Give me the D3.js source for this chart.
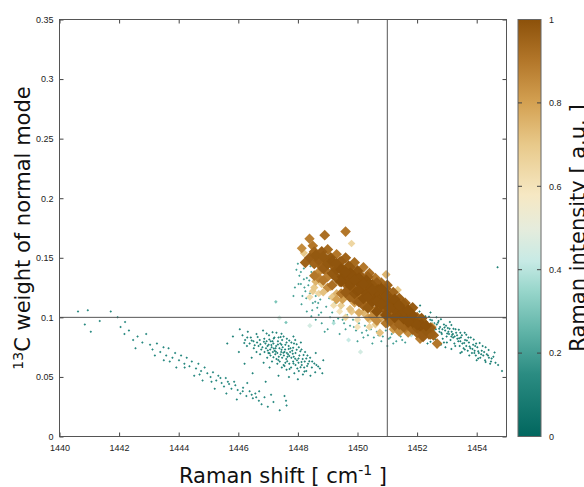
<!DOCTYPE html>
<html>
<head>
<meta charset="utf-8">
<script src="https://cdn.jsdelivr.net/npm/d3@7"></script>
<style>
  html, body { margin: 0; padding: 0; background: #fff; }
  svg { display: block; font-family: "DejaVu Sans", sans-serif; }
  .tick text { font-size: 9px; fill: #222; }
  .tick line { stroke: #444; }
  .title { font-size: 21px; fill: #111; }
</style>
</head>
<body>
<svg id="chart" width="584" height="487"></svg>
<script>
// axis ticks
const xTicks = [1440, 1442, 1444, 1446, 1448, 1450, 1452, 1454];
const yTicks = [0, 0.05, 0.1, 0.15, 0.2, 0.25, 0.3, 0.35];
const cbTicks = [0, 0.2, 0.4, 0.6, 0.8, 1];
const refX = 1451;
const refY = 0.1;

// colour map stops (intensity -> colour)
const cmapStops = [0, 0.15, 0.25, 0.35, 0.42, 0.5, 0.58, 0.7, 0.8, 0.9, 1];
const cmapColors = ['#01665e', '#2b8c82', '#5fb3a7', '#98d6cb', '#c7eae5', '#e6ecdc',
  '#f6e8c3', '#e8c98a', '#d4a152', '#b3772a', '#8c510a'];

// weak modes, [shift, 13C weight]; one intensity per group
const tealLeft = [[1440.62,.105],[1440.95,.106],[1441.72,.105],[1440.85,.094],[1441.05,.088],[1441.35,.097],
  [1442.05,.092],[1442.18,.086],[1442.33,.089],[1442.47,.081],[1442.62,.084],[1442.78,.079],[1442.91,.086],
  [1443.04,.077],[1443.12,.073],[1443.27,.078],[1443.38,.071],[1443.49,.075],[1443.58,.068],[1443.66,.074],
  [1443.79,.066],[1443.88,.070],[1444.01,.064],[1444.08,.068],[1444.19,.061],[1444.27,.066],[1444.36,.059],
  [1444.44,.063],[1444.58,.057],[1444.66,.061],[1444.75,.055],[1444.87,.058],[1444.96,.053],[1445.07,.050],
  [1445.15,.054],[1445.26,.047],[1445.33,.051],[1445.44,.045],[1445.52,.042],[1445.58,.049],[1445.69,.044],
  [1445.77,.040],[1445.86,.046],[1445.98,.039],[1446.07,.036],[1446.16,.041],[1446.27,.034],[1446.38,.038],
  [1446.49,.032],[1446.57,.036],[1446.69,.030],[1446.78,.027],[1446.88,.033],[1446.99,.025],[1447.18,.029],
  [1447.39,.022],[1447.62,.026],[1443.92,.058],[1444.52,.051],[1445.21,.040],[1445.95,.031],[1442.55,.074],
  [1443.50,.064],[1444.80,.047],[1446.30,.045],[1446.70,.038],[1447.10,.035],[1447.60,.030],[1445.60,.036],
  [1443.20,.068],[1442.20,.096],[1441.95,.100],[1445.40,.049],[1445.65,.046],[1445.90,.043],[1446.15,.038],
  [1446.45,.035],[1446.60,.033],[1445.10,.046],[1444.70,.052],[1444.20,.058],[1443.70,.063]];
const tealLeftLevel = 0.14;

const tealMid = [[1446.05,.090],[1445.82,.084],[1445.63,.078],[1446.02,.071],[1446.21,.061],[1446.48,.053],
  [1446.92,.046],[1447.55,.034],[1446.32,.088],[1446.83,.089],[1447.28,.087],[1446.14,.085],[1446.61,.086],
  [1447.03,.085],[1447.52,.084],[1446.42,.083],[1446.87,.082],[1447.21,.083],[1447.63,.082],[1447.91,.081],
  [1446.23,.081],[1446.51,.080],[1446.72,.081],[1447.09,.080],[1447.33,.080],[1447.47,.081],[1447.78,.079],
  [1446.38,.078],[1446.63,.079],[1446.91,.078],[1447.02,.077],[1447.18,.078],[1447.41,.078],[1447.58,.077],
  [1447.87,.078],[1446.29,.076],[1446.68,.076],[1446.81,.075],[1446.98,.076],[1447.12,.075],[1447.27,.076],
  [1447.49,.075],[1447.69,.076],[1448.03,.075],[1446.52,.074],[1446.77,.073],[1446.93,.074],[1447.07,.073],
  [1447.22,.072],[1447.38,.074],[1447.57,.073],[1447.81,.072],[1448.12,.073],[1446.61,.071],[1446.88,.071],
  [1447.01,.070],[1447.16,.071],[1447.31,.070],[1447.44,.071],[1447.63,.070],[1447.74,.071],[1447.92,.070],
  [1448.24,.071],[1446.73,.069],[1447.08,.068],[1447.24,.069],[1447.36,.067],[1447.53,.068],[1447.67,.069],
  [1447.86,.067],[1448.05,.068],[1448.32,.068],[1446.97,.066],[1447.28,.065],[1447.47,.066],[1447.61,.065],
  [1447.78,.066],[1447.97,.064],[1448.16,.065],[1448.41,.066],[1447.13,.063],[1447.39,.063],[1447.58,.062],
  [1447.84,.063],[1448.02,.062],[1448.23,.063],[1448.48,.063],[1447.31,.061],[1447.52,.060],[1447.71,.061],
  [1447.92,.060],[1448.13,.060],[1448.34,.061],[1448.62,.060],[1447.46,.058],[1447.77,.058],[1447.98,.057],
  [1448.21,.058],[1448.47,.058],[1448.74,.057],[1447.62,.056],[1448.03,.055],[1448.28,.055],[1448.58,.054],
  [1447.88,.053],[1448.17,.052],[1448.42,.051],[1448.82,.053],[1447.05,.058],[1446.85,.062],[1447.70,.050],
  [1446.45,.066],[1448.60,.070],[1448.85,.064],[1447.35,.051],[1448.00,.048],[1447.45,.077],[1447.25,.074],
  [1447.55,.071],[1447.15,.080],[1447.65,.067],[1447.35,.083],[1446.95,.080],[1447.75,.074],
  [1446.86,.0795],[1447.04,.0815],[1447.19,.0822],[1447.42,.0835],[1447.71,.0805],[1447.96,.0775],
  [1446.74,.0775],[1447.11,.0768],[1447.33,.0772],[1447.62,.0788],[1447.84,.0745],[1448.08,.0715],
  [1446.99,.0722],[1447.19,.0738],[1447.45,.0728],[1447.69,.0735],[1447.96,.0728],[1448.19,.0685],
  [1447.05,.0698],[1447.26,.0712],[1447.51,.0702],[1447.83,.0695],[1448.02,.0655],[1448.28,.0655],
  [1447.18,.0665],[1447.42,.0688],[1447.71,.0675],[1447.91,.0652],[1448.12,.0625],[1448.38,.0632],
  [1447.34,.0642],[1447.64,.0632],[1447.85,.0612],[1448.09,.0582],[1448.31,.0592],[1448.55,.0612],
  [1447.55,.0592],[1447.72,.0566],[1448.22,.0545],[1448.68,.0588],[1446.55,.0765],[1446.45,.0805],
  [1446.20,.0785],[1446.30,.0830],[1446.65,.0835],[1446.95,.0865],[1447.15,.0875],[1447.45,.0862],
  [1447.85,.0840],[1448.10,.0790]];
const tealMidLevel = 0.12;

const tealUnder = [[1448.05,.135],[1448.10,.128],[1448.20,.141],[1448.25,.122],[1448.30,.133],[1448.35,.127],
  [1448.45,.138],[1448.50,.112],[1448.55,.125],[1448.60,.118],[1448.15,.118],[1448.00,.145],[1448.30,.105],
  [1448.65,.108],[1448.75,.115],[1448.85,.121],[1448.95,.109],[1449.05,.116],[1449.15,.104],[1449.25,.112],
  [1449.35,.099],[1449.45,.108],[1449.55,.095],[1449.65,.102],[1449.75,.093],[1449.85,.098],[1449.95,.089],
  [1450.05,.095],[1450.15,.087],[1450.25,.093],[1450.35,.085],[1450.45,.090],[1450.55,.083],[1450.65,.088],
  [1450.85,.084],[1450.95,.089],[1451.05,.082],[1451.15,.086],[1451.30,.080],[1451.45,.084],[1451.60,.079],
  [1449.00,.090],[1448.80,.095],[1448.60,.098],[1449.40,.086],[1450.00,.080],[1450.50,.078],[1451.00,.076],
  [1448.90,.088],[1448.45,.101],[1447.90,.125],[1447.85,.118],[1448.20,.132],[1448.40,.120],[1448.70,.102],
  [1449.20,.097],[1449.60,.090],[1450.20,.083],[1450.80,.080],[1451.20,.078],
  [1448.10,.138],[1448.22,.125],[1448.38,.131],[1448.12,.111],[1448.48,.106],[1448.58,.113],[1448.28,.116],
  [1448.68,.112],[1448.42,.143],[1448.02,.128],[1447.95,.140],[1448.52,.130],[1448.78,.104],[1449.08,.100],
  [1449.50,.098],[1449.88,.092],[1450.30,.089],[1450.70,.085],[1451.10,.083],[1451.50,.081]];
const tealUnderLevel = 0.2;

const tealRight = [[1451.55,.101],[1451.62,.096],[1451.71,.104],[1451.78,.099],[1451.84,.094],[1451.92,.102],
  [1451.97,.097],[1452.04,.092],[1452.08,.105],[1452.13,.099],[1452.19,.094],[1452.24,.089],[1452.28,.101],
  [1452.33,.096],[1452.39,.091],[1452.44,.098],[1452.49,.093],[1452.53,.087],[1452.58,.095],[1452.63,.090],
  [1452.68,.085],[1452.72,.097],[1452.77,.092],[1452.81,.087],[1452.86,.082],[1452.90,.094],[1452.94,.089],
  [1452.99,.084],[1453.03,.091],[1453.07,.086],[1453.12,.081],[1453.16,.088],[1453.21,.083],[1453.25,.078],
  [1453.29,.090],[1453.34,.085],[1453.38,.080],[1453.43,.076],[1453.47,.083],[1453.52,.078],[1453.56,.074],
  [1453.61,.081],[1453.65,.076],[1453.70,.072],[1453.74,.079],[1453.79,.074],[1453.84,.070],[1453.88,.077],
  [1453.93,.072],[1453.97,.068],[1454.02,.075],[1454.07,.070],[1454.12,.066],[1454.17,.072],[1454.22,.068],
  [1454.28,.064],[1454.34,.069],[1454.41,.066],[1454.48,.063],[1454.56,.067],[1454.63,.062],[1454.72,.060],
  [1452.10,.110],[1452.45,.104],[1452.20,.086],[1452.55,.082],[1453.00,.079],[1453.50,.071],[1454.00,.064],
  [1453.10,.096],[1452.65,.100],[1451.90,.089],[1453.60,.087],[1454.30,.075],[1454.85,.055],[1454.70,.142],
  [1452.35,.078],[1452.95,.075],[1453.80,.083],[1452.85,.090],[1453.05,.088],[1453.20,.086],[1453.35,.082],
  [1452.75,.088],[1453.15,.084],[1453.45,.080],[1452.60,.092],
  [1452.26,.0955],[1452.36,.0935],[1452.47,.0900],[1452.56,.0885],[1452.66,.0940],[1452.74,.0905],
  [1452.83,.0860],[1452.92,.0915],[1453.01,.0865],[1453.09,.0905],[1453.18,.0855],[1453.26,.0840],
  [1453.31,.0870],[1453.41,.0825],[1453.50,.0850],[1453.58,.0785],[1453.67,.0805],[1453.76,.0755],
  [1453.86,.0735],[1453.95,.0760],[1454.05,.0715],[1454.15,.0690],[1454.25,.0710],[1454.38,.0680],
  [1454.50,.0655],[1452.40,.1005],[1452.70,.0955],[1452.97,.0930],[1453.22,.0905],[1453.45,.0870],
  [1453.72,.0830],[1453.98,.0780],[1454.20,.0760],[1452.30,.0845],[1452.62,.0815],[1452.90,.0790],
  [1453.28,.0760],[1453.60,.0730],[1453.92,.0700],[1454.45,.0610],[1452.02,.0985],[1451.75,.0935],
  [1451.66,.1015],[1452.15,.0900],[1452.50,.0975],
  [1452.80,.0985],[1453.15,.0935],[1453.40,.0895],[1453.65,.0855],[1453.90,.0815],[1454.10,.0785],
  [1454.40,.0725],[1454.60,.0705],[1452.45,.0795],[1452.80,.0770],[1453.15,.0735],[1453.45,.0700],
  [1453.75,.0680],[1454.05,.0655],[1454.30,.0625]];
const tealRightLevel = 0.11;

// isolated medium-intensity modes, [shift, weight, intensity]
const lightModes = [[1447.26,.113,.3],[1447.38,.0996,.45],[1448.40,.093,.45],[1447.60,.0956,.3],
  [1449.70,.081,.42],[1450.10,.071,.45],[1452.50,.095,.42],[1451.80,.085,.4],[1449.20,.095,.38]];

// strong modes, [shift, weight, intensity]
const strongModes = [[1448.13,.158,.85],[1448.39,.166,.88],[1448.90,.169,.92],[1449.60,.172,.9],[1449.80,.162,.65],
  [1448.25,.146,.95],[1448.40,.150,.97],[1448.20,.154,.7],[1448.50,.160,.9],
  [1448.60,.152,.98],[1448.70,.145,.95],[1448.80,.155,.97],[1448.90,.148,.96],[1449.00,.157,.93],[1449.10,.150,.98],
  [1449.20,.143,.96],[1448.70,.138,.85],[1448.90,.140,.92],[1449.00,.134,.88],[1448.60,.130,.75],[1448.80,.128,.7],
  [1448.50,.122,.68],[1448.40,.117,.62],[1448.70,.120,.65],[1449.10,.126,.8],[1449.20,.136,.94],[1449.30,.153,.9],
  [1449.40,.146,.97],[1449.50,.140,.99],[1449.60,.150,.95],[1449.70,.143,.98],[1449.80,.136,1],[1449.90,.146,.93],
  [1450.00,.139,.99],[1449.40,.130,.9],[1449.60,.128,.95],[1449.80,.125,.97],[1450.00,.130,1],[1449.30,.120,.75],
  [1449.50,.115,.8],[1449.70,.118,.85],[1449.90,.112,.8],[1449.20,.110,.62],[1449.40,.105,.6],[1449.60,.100,.65],
  [1449.80,.105,.7],[1450.00,.098,.62],[1450.10,.135,.97],[1450.20,.142,.9],[1450.30,.131,1],[1450.40,.137,.92],
  [1450.50,.127,.99],[1450.60,.133,.9],[1450.70,.123,1],[1450.80,.129,.93],[1450.20,.124,.98],[1450.40,.119,.97],
  [1450.60,.115,.99],[1450.80,.117,.96],[1450.10,.116,.9],[1450.30,.110,.88],[1450.50,.106,.85],[1450.70,.108,.92],
  [1450.20,.104,.75],[1450.40,.098,.7],[1450.60,.094,.68],[1450.80,.100,.8],[1450.00,.092,.6],[1450.40,.092,.65],
  [1450.75,.087,.72],[1450.90,.121,1],[1451.00,.127,.95],[1451.10,.116,.99],[1451.20,.121,.95],[1451.30,.111,1],
  [1451.35,.123,.7],[1450.96,.136,.75],[1451.40,.116,.96],[1451.50,.106,.99],[1451.60,.112,.95],[1450.90,.107,.97],
  [1451.10,.103,.95],[1451.30,.099,.93],[1451.50,.096,.95],[1451.00,.095,.85],[1451.20,.090,.8],[1451.40,.088,.85],
  [1451.60,.091,.9],[1451.70,.102,1],[1451.80,.107,.95],[1451.90,.098,.99],[1452.00,.100,.93],[1452.10,.093,1],
  [1452.20,.096,.9],[1452.30,.089,.98],[1451.80,.092,.96],[1452.00,.087,.95],[1452.20,.084,.97],[1452.40,.086,.96],
  [1452.55,.085,.95],[1452.67,.078,.9],[1452.50,.092,.8],[1451.70,.087,.85],[1452.10,.082,.88],
  [1449.30,.140,.99],[1449.50,.134,1],[1449.70,.130,1],[1450.00,.122,1],[1450.20,.116,1],[1450.50,.113,1],
  [1450.70,.116,1],[1451.00,.112,1],[1451.20,.108,1],[1451.40,.104,1],[1451.60,.100,1],[1449.90,.120,.99],
  [1450.30,.120,1],[1450.60,.121,1],[1450.90,.114,1],
  [1448.55,.125,.7],[1448.55,.135,.9],[1448.55,.145,.95],[1448.55,.155,.95],
  [1448.85,.121,.72],[1448.85,.131,.9],[1448.85,.141,.97],[1448.85,.151,.98],
  [1449.15,.117,.7],[1449.15,.127,.92],[1449.15,.137,.98],[1449.15,.147,.99],
  [1449.45,.110,.68],[1449.45,.120,.9],[1449.45,.130,1],[1449.45,.140,1],[1449.45,.147,.97],
  [1449.75,.107,.72],[1449.75,.117,.95],[1449.75,.127,1],[1449.75,.137,1],[1449.75,.142,.97],
  [1450.05,.104,.78],[1450.05,.113,.97],[1450.05,.123,1],[1450.05,.133,1],
  [1450.35,.100,.8],[1450.35,.108,.98],[1450.35,.117,1],[1450.35,.127,1],[1450.35,.134,.96],
  [1450.65,.097,.85],[1450.65,.105,1],[1450.65,.113,1],[1450.65,.122,1],[1450.65,.129,.97],
  [1450.95,.095,.9],[1450.95,.102,1],[1450.95,.110,1],[1450.95,.118,1],[1450.95,.124,.97],
  [1451.25,.093,.92],[1451.25,.100,1],[1451.25,.107,1],[1451.25,.115,1],
  [1451.55,.092,.95],[1451.55,.099,1],[1451.55,.105,1],[1451.55,.111,.98],
  [1451.85,.090,.96],[1451.85,.096,1],[1451.85,.102,1],[1451.85,.108,.97],
  [1452.15,.088,.97],[1452.15,.094,1],[1452.15,.099,.98],[1452.45,.086,.96],[1452.45,.091,.97],
  [1448.70,.133,.88],[1448.70,.148,.97],[1449.00,.145,.98],[1449.00,.125,.85],[1449.30,.133,.98],
  [1449.30,.115,.8],[1449.30,.145,.99],[1449.60,.121,.97],[1449.60,.138,1],[1449.90,.131,1],[1449.90,.115,.95],
  [1450.20,.128,1],[1450.20,.110,.95],[1450.50,.123,1],[1450.50,.101,.85],[1450.80,.111,1],[1450.80,.124,1],
  [1451.10,.108,1],[1451.10,.097,.95],[1451.40,.110,1],[1451.40,.094,.95],[1451.70,.096,1],[1451.70,.106,1],
  [1452.00,.094,1],[1452.00,.091,.98],[1452.30,.093,1]];

const W = 584, H = 487;
const plot = { left: 59.5, right: 506.5, top: 19.5, bottom: 436.5 };
const bar = { left: 518, right: 541 };

const svg = d3.select('#chart');

const x = d3.scaleLinear().domain([1440, 1455]).range([plot.left, plot.right]);
const y = d3.scaleLinear().domain([0, 0.35]).range([plot.bottom, plot.top]);
const cy = d3.scaleLinear().domain([0, 1]).range([plot.bottom, plot.top]);
const color = d3.scaleLinear().domain(cmapStops).range(cmapColors).clamp(true);

// collect points, weak first so strong ones end on top
const points = [];
const addGroup = (arr, lvl) => arr.forEach(p => points.push({ x: p[0], y: p[1], v: lvl }));
addGroup(tealLeft, tealLeftLevel);
addGroup(tealMid, tealMidLevel);
addGroup(tealUnder, tealUnderLevel);
addGroup(tealRight, tealRightLevel);
lightModes.concat(strongModes).forEach(p => points.push({ x: p[0], y: p[1], v: p[2] }));
points.sort((a, b) => a.v - b.v);

// marker size grows with intensity
const diamond = d => {
  const r = Math.max(1.25, 5.9 * d.v);
  const px = x(d.x), py = y(d.y);
  return `M${px},${py - r}L${px + r},${py}L${px},${py + r}L${px - r},${py}Z`;
};

svg.append('defs').append('clipPath').attr('id', 'plotclip')
  .append('rect')
  .attr('x', plot.left).attr('y', plot.top)
  .attr('width', plot.right - plot.left).attr('height', plot.bottom - plot.top);

svg.append('g')
  .attr('clip-path', 'url(#plotclip)')
  .selectAll('path').data(points).enter().append('path')
  .attr('d', diamond)
  .attr('fill', d => color(d.v));

// reference lines
svg.append('line')
  .attr('x1', plot.left).attr('x2', plot.right)
  .attr('y1', y(refY)).attr('y2', y(refY))
  .attr('stroke', '#555').attr('stroke-width', 1);
svg.append('line')
  .attr('x1', x(refX)).attr('x2', x(refX))
  .attr('y1', plot.top).attr('y2', plot.bottom)
  .attr('stroke', '#555').attr('stroke-width', 1);

// axes, ticks pointing inward on all four sides
const noDomain = g => g.select('.domain').remove();
svg.append('g')
  .attr('transform', `translate(0,${plot.bottom})`)
  .call(d3.axisBottom(x).tickValues(xTicks).tickFormat(d3.format('d')).tickSize(-4).tickPadding(8))
  .call(noDomain);
svg.append('g')
  .attr('transform', `translate(0,${plot.top})`)
  .call(d3.axisTop(x).tickValues(xTicks).tickFormat('').tickSize(-4))
  .call(noDomain);
svg.append('g')
  .attr('transform', `translate(${plot.left},0)`)
  .call(d3.axisLeft(y).tickValues(yTicks).tickFormat(d => String(+d.toFixed(2))).tickSize(-4).tickPadding(6))
  .call(noDomain);
svg.append('g')
  .attr('transform', `translate(${plot.right},0)`)
  .call(d3.axisRight(y).tickValues(yTicks).tickFormat('').tickSize(-4))
  .call(noDomain);

svg.append('rect')
  .attr('x', plot.left).attr('y', plot.top)
  .attr('width', plot.right - plot.left).attr('height', plot.bottom - plot.top)
  .attr('fill', 'none').attr('stroke', '#555').attr('stroke-width', 1);

// colour bar
const grad = svg.select('defs').append('linearGradient')
  .attr('id', 'cbgrad').attr('x1', 0).attr('y1', 1).attr('x2', 0).attr('y2', 0);
grad.selectAll('stop').data(cmapStops).enter().append('stop')
  .attr('offset', d => d)
  .attr('stop-color', d => color(d));

svg.append('rect')
  .attr('x', bar.left).attr('y', plot.top)
  .attr('width', bar.right - bar.left).attr('height', plot.bottom - plot.top)
  .attr('fill', 'url(#cbgrad)').attr('stroke', '#666').attr('stroke-width', 1);

const inner = cbTicks.filter(t => t > 0 && t < 1);
svg.append('g').selectAll('line').data(inner).enter().append('line')
  .attr('x1', bar.left).attr('x2', bar.left + 4)
  .attr('y1', d => cy(d)).attr('y2', d => cy(d))
  .attr('stroke', '#444');
svg.append('g').selectAll('line').data(inner).enter().append('line')
  .attr('x1', bar.right - 4).attr('x2', bar.right)
  .attr('y1', d => cy(d)).attr('y2', d => cy(d))
  .attr('stroke', '#444');
svg.append('g')
  .attr('transform', `translate(${bar.right},0)`)
  .call(d3.axisRight(cy).tickValues(cbTicks).tickFormat(d3.format('')).tickSize(0).tickPadding(8))
  .call(noDomain);

// titles
const xt = svg.append('text').attr('class', 'title')
  .attr('x', (plot.left + plot.right) / 2).attr('y', 483)
  .attr('text-anchor', 'middle');
xt.append('tspan').text('Raman shift [ cm');
xt.append('tspan').attr('dy', -8).attr('font-size', 14).text('-1');
xt.append('tspan').attr('dy', 8).text(' ]');

const yt = svg.append('text').attr('class', 'title')
  .attr('transform', `translate(30,${(plot.top + plot.bottom) / 2}) rotate(-90)`)
  .attr('text-anchor', 'middle');
yt.append('tspan').attr('dy', -7).attr('font-size', 14).text('13');
yt.append('tspan').attr('dy', 7).text('C weight of normal mode');

// colour-bar title, its baseline just past the right edge as in the original
svg.append('text').attr('class', 'title')
  .attr('transform', `translate(585,${(plot.top + plot.bottom) / 2}) rotate(-90)`)
  .attr('text-anchor', 'middle')
  .text('Raman intensity [ a.u. ]');
</script>
</body>
</html>
